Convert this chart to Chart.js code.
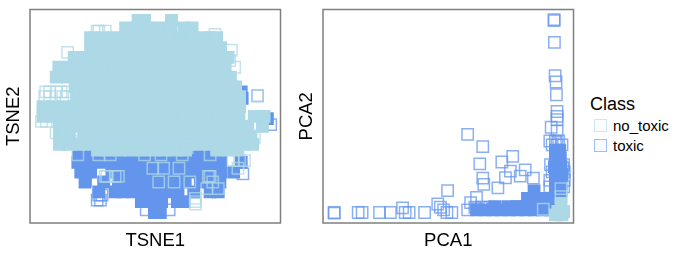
<!DOCTYPE html>
<html>
<head>
<meta charset="utf-8">
<script src="https://cdn.jsdelivr.net/npm/chart.js@4"></script>
<style>
  body { margin: 0; background: #fff; font-family: "Liberation Sans", sans-serif; }
  canvas { position: absolute; top: 0; }
  #tsne { left: 0; }
  #pca { left: 293px; }
  #legend { position: absolute; left: 590px; top: 92px; color: #000; }
  #legend .title { font-size: 18px; line-height: 24px; }
  #legend .item { position: relative; font-size: 15px; line-height: 20px; padding-left: 23px; }
  #legend .box { position: absolute; left: 4px; top: 3px; width: 11px; height: 11px; border: 1.5px solid; }
</style>
</head>
<body>
<canvas id="tsne" width="290" height="254"></canvas>
<canvas id="pca" width="290" height="254"></canvas>
<div id="legend"></div>
<script>
// axis units are arbitrary, neither embedding has ticks. each row is [y, x, x, x ...]
const classNames = ["no_toxic", "toxic"];
const classColors = ["#add8e6", "#6495ed"];
const axisTitles = ["TSNE1", "TSNE2", "PCA1", "PCA2"];

const tsneNoToxicDense = [
  [618, 420, 440, 522],
  [595, 382, 415, 450, 485, 520, 560, 585],
  [565, 275, 310, 345, 380, 412, 446, 480, 514, 548, 582, 616, 640, 660],
  [535, 275, 308, 342, 376, 410, 444, 478, 512, 546, 580, 614, 648, 672],
  [505, 225, 258, 292, 326, 360, 394, 428, 462, 496, 530, 564, 598, 632, 666, 695],
  [475, 178, 210, 244, 278, 312, 346, 380, 414, 448, 482, 516, 550, 584, 618, 652, 686],
  [445, 170, 204, 238, 272, 306, 340, 374, 408, 442, 476, 510, 544, 578, 612, 646, 680, 702],
  [415, 228, 262, 296, 330, 364, 398, 432, 466, 500, 534, 568, 602, 636, 670, 704, 718],
  [385, 232, 266, 300, 334, 368, 402, 436, 470, 504, 538, 572, 606, 640, 674, 708, 730],
  [355, 130, 160, 192, 226, 260, 294, 328, 362, 396, 430, 464, 498, 532, 566, 600, 634, 668, 702, 730],
  [325, 130, 160, 185, 218, 252, 286, 320, 354, 388, 422, 456, 490, 524, 558, 592, 626, 660, 694, 728, 775, 805],
  [295, 180, 214, 248, 282, 316, 350, 384, 418, 452, 486, 520, 554, 588, 622, 656, 690, 724, 755, 800],
  [265, 180, 210, 254, 288, 322, 356, 390, 424, 458, 492, 526, 560, 594, 628, 662, 696, 730, 765],
  [240, 180, 210, 240, 270, 300, 334, 368, 402, 436, 470, 504, 538, 572, 606, 640, 674, 708, 740, 770],
  [222, 296, 330, 364, 398, 432, 470, 500, 535, 565, 660, 695, 725],
];
const tsneNoToxicOpen = [
  [400, 138, 150, 170, 185, 205],
  [385, 135, 150, 190, 200],
  [345, 130, 150, 165],
  [310, 125, 140],
  [275, 185, 170],
  [250, 195, 215],
  [585, 300, 320, 295],
  [520, 205],
  [527, 705],
  [495, 700],
  [475, 715],
  [575, 655],
  [388, 785],
  [260, 775],
  [190, 745, 730, 710],
  [208, 236, 335, 300, 490, 440, 555, 640],
  [230, 540, 570],
  [167, 465, 498, 545, 725],
  [142, 360, 350, 325, 320, 635, 640],
  [125, 483, 530, 648, 578],
  [105, 665, 630],
  [75, 595],
  [65, 595],
  [58, 595],
];
const tsneToxicDense = [
  [400, 735],
  [380, 738],
  [318, 815],
  [215, 238, 272, 306, 340, 374, 408, 442, 476, 510, 544, 578, 612, 646, 668],
  [185, 236, 270, 304, 338, 372, 406, 440, 474, 508, 542, 576, 610, 644, 672, 735],
  [155, 245, 275, 340, 374, 408, 442, 476, 510, 544, 578, 612, 646, 672, 712],
  [125, 258, 315, 360, 394, 428, 462, 496, 530, 564, 610, 640, 670],
  [95, 300, 350, 372, 405, 440, 474, 508, 542, 590, 640, 665],
  [65, 430, 465, 492, 540, 560],
  [32, 470, 488],
];
const tsneToxicOpen = [
  [85, 300, 310],
  [70, 305, 295],
  [130, 260],
  [40, 445, 515],
  [388, 785],
  [300, 825],
  [150, 740],
];

const pcaNoToxicDense = [
  [35, 752, 770],
  [25, 745, 765],
  [60, 762],
];
const pcaNoToxicOpen = [
  [42, 708],
  [80, 762],
  [105, 762],
];
const pcaToxicDense = [
  [40, 505, 530, 555, 580, 605, 630, 655, 680, 705, 730],
  [50, 560, 600, 630, 640, 665, 690, 715, 735],
  [75, 660, 685, 710, 735],
  [98, 680, 745, 762],
  [122, 745, 762],
  [148, 745, 765],
  [172, 742, 762],
  [198, 745, 760],
  [222, 745, 758],
];
const pcaToxicOpen = [
  [30, 72], [32, 72],
  [32, 145, 157, 210, 243, 288, 300, 347, 415, 430],
  [46, 280],
  [58, 387],
  [48, 395, 500, 520, 545],
  [40, 405, 478],
  [99, 417],
  [270, 478],
  [233, 524],
  [180, 515],
  [186, 582],
  [203, 615],
  [137, 524],
  [118, 527],
  [107, 570],
  [138, 593],
  [158, 608],
  [143, 638],
  [162, 653],
  [137, 678],
  [78, 505],
  [62, 487],
  [620, 741], [617, 741],
  [551, 742],
  [449, 744],
  [430, 747],
  [391, 748],
  [340, 750],
  [325, 750],
  [315, 750],
  [292, 732],
  [280, 750],
  [250, 728, 745, 755],
  [238, 735, 750, 765],
  [178, 730, 770],
  [168, 768],
  [156, 735, 772],
  [130, 728, 772],
  [110, 728, 770],
];

function rowsToPoints(rows) {
  return rows.flatMap(([y, ...xs]) => xs.map((x) => ({ x, y })));
}

function hexAlpha(hex, alpha) {
  const n = parseInt(hex.slice(1), 16);
  return `rgba(${n >> 16}, ${(n >> 8) & 255}, ${n & 255}, ${alpha})`;
}

function denseSet(rows, color) {
  return {
    data: rowsToPoints(rows),
    pointStyle: "rect",
    pointRadius: 8,
    pointBorderWidth: 1.5,
    pointBackgroundColor: color,
    pointBorderColor: color,
  };
}

function openSet(rows, color) {
  return {
    data: rowsToPoints(rows),
    pointStyle: "rect",
    pointRadius: 8,
    pointBorderWidth: 1.5,
    pointBackgroundColor: "transparent",
    pointBorderColor: hexAlpha(color, 0.75),
  };
}

const panelBorder = {
  id: "panelBorder",
  afterDraw(chart) {
    const { ctx, chartArea: a } = chart;
    ctx.save();
    ctx.strokeStyle = "#7f7f7f";
    ctx.lineWidth = 1.5;
    ctx.strokeRect(a.left, a.top, a.right - a.left, a.bottom - a.top);
    ctx.restore();
  },
};

function axis(titleText, min, max, fit) {
  return {
    type: "linear",
    min,
    max,
    grid: { display: false },
    border: { display: false },
    ticks: { display: false },
    afterFit: fit,
    title: {
      display: true,
      text: titleText,
      color: "#000",
      font: { family: "Liberation Sans", size: 18.5 },
      padding: { top: 3, bottom: 2 },
    },
  };
}

function scatterPanel(id, datasets, xTitle, yTitle, xMin, xMax) {
  new Chart(document.getElementById(id), {
    type: "scatter",
    data: { datasets },
    plugins: [panelBorder],
    options: {
      responsive: false,
      animation: false,
      layout: { padding: { top: 6, right: 5, left: 0, bottom: 0 } },
      plugins: { legend: { display: false }, tooltip: { enabled: false } },
      scales: {
        x: axis(xTitle, xMin, xMax, (s) => { s.height = 31; }),
        y: axis(yTitle, 0, 651, (s) => { s.width = 30; }),
      },
    },
  });
}

// first dataset is painted last, so no_toxic ends up over toxic
scatterPanel("tsne", [
  openSet(tsneNoToxicOpen, classColors[0]),
  denseSet(tsneNoToxicDense, classColors[0]),
  openSet(tsneToxicOpen, classColors[1]),
  denseSet(tsneToxicDense, classColors[1]),
], axisTitles[0], axisTitles[1], 90, 855);

scatterPanel("pca", [
  openSet(pcaNoToxicOpen, classColors[0]),
  denseSet(pcaNoToxicDense, classColors[0]),
  openSet(pcaToxicOpen, classColors[1]),
  denseSet(pcaToxicDense, classColors[1]),
], axisTitles[2], axisTitles[3], 38, 800);

const legend = document.getElementById("legend");
legend.innerHTML = '<div class="title">Class</div>' + classNames.map((name, i) =>
  `<div class="item"><span class="box" style="border-color:${hexAlpha(classColors[i], 0.6)};background:${hexAlpha(classColors[i], 0.05)}"></span>${name}</div>`
).join("");
</script>
</body>
</html>
